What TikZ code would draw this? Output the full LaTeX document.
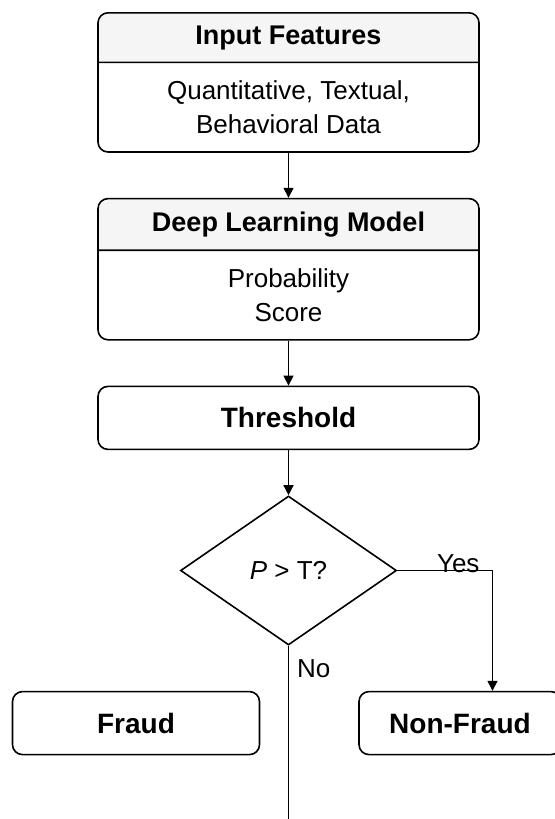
\documentclass[tikz,border=0pt]{standalone}
\usepackage{fontspec}
\setmainfont{Liberation Sans}
\usetikzlibrary{arrows.meta,shapes.multipart,shapes.geometric,positioning}

\newcommand{\partbox}[2]{\parbox[c][#1][c]{190.5pt}{\centering #2}}

\begin{document}
\begin{tikzpicture}[
            stage/.style={rectangle split, rectangle split parts=2,
                    draw, rounded corners=5pt, inner sep=0pt, line width=0.8pt,
                    rectangle split part fill={gray!8,white},
                    font=\fontsize{13}{17}\selectfont},
            plain/.style={rectangle, draw, rounded corners=5pt, line width=0.8pt,
                    minimum height=31.5pt, font=\fontsize{14}{16}\selectfont\bfseries},
            decision/.style={diamond, draw, line width=0.8pt, aspect=1.45,
                    minimum width=108pt, minimum height=74.5pt, inner sep=0pt,
                    font=\fontsize{13}{16}\selectfont},
            >={Triangle[length=5pt,width=5pt]},
            node distance=22.5pt]

        \useasboundingbox (0,0) rectangle (277pt,-409.5pt);

        \node[stage, anchor=north] (feat) at (144.25pt,-6pt)
            {\partbox{24pt}{\bfseries\fontsize{13.5}{16}\selectfont Input Features}
             \nodepart{two}\partbox{44pt}{Quantitative, Textual,\\ Behavioral Data}};
        \node[stage, below=of feat] (model)
            {\partbox{25pt}{\bfseries\fontsize{13.5}{16}\selectfont Deep Learning Model}
             \nodepart{two}\partbox{44pt}{Probability\\ Score}};
        \node[plain, minimum width=190.5pt, below=22.5pt of model] (thr) {Threshold};
        \node[decision, below=22.5pt of thr] (dec) {\textit{P} > T?};
        \node[plain, minimum width=123.5pt, below=of dec, xshift=-76.25pt] (fraud) {Fraud};
        \node[plain, minimum width=101pt, below=of dec, xshift=85.75pt] (nonfraud) {Non-Fraud};
        \coordinate (exit) at (dec.south |- 0,-420pt);

        \draw[line width=0.7pt,->] (feat) -- (model);
        \draw[line width=0.7pt,->] (model) -- (thr);
        \draw[line width=0.7pt,->] (thr) -- (dec);
        \draw[line width=0.7pt,->] (dec.east) -| node[pos=0.32, anchor=south, inner sep=0pt,
            yshift=-1.5pt, font=\fontsize{13}{16}\selectfont] {Yes} ([xshift=16.25pt]nonfraud.north);
        \draw[line width=0.7pt] (dec.south) -- node[pos=0.12, right, inner sep=4pt,
            font=\fontsize{13}{16}\selectfont] {No} (exit);
    \end{tikzpicture}
\end{document}
